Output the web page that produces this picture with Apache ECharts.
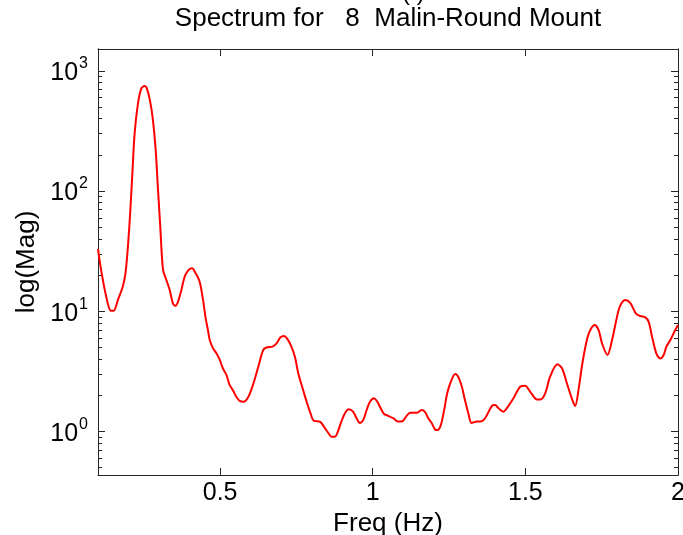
<!DOCTYPE html>
<html>
<head>
<meta charset="utf-8">
<script src="https://cdn.jsdelivr.net/npm/echarts@6/dist/echarts.min.js"></script>
<style>
  html, body { margin: 0; padding: 0; background: #fff; }
  #chart { width: 683px; height: 535px; }
</style>
</head>
<body>
<div id="chart"></div>
<script>
// Spectrum magnitude of station 8 (Malin-Round Mount)
const freqHz = [
  0.100, 0.105, 0.116, 0.127, 0.140, 0.151, 0.165, 0.181, 0.190, 0.198,
  0.206, 0.212, 0.220, 0.231, 0.242, 0.253, 0.260, 0.271, 0.280, 0.289,
  0.296, 0.304, 0.313, 0.324, 0.335, 0.345, 0.353, 0.362, 0.373, 0.384,
  0.397, 0.408, 0.420, 0.433, 0.444, 0.452, 0.460, 0.466, 0.477, 0.488,
  0.499, 0.509, 0.521, 0.531, 0.542, 0.553, 0.564, 0.578, 0.590, 0.600,
  0.613, 0.627, 0.641, 0.652, 0.672, 0.685, 0.698, 0.709, 0.719, 0.731,
  0.745, 0.756, 0.772, 0.785, 0.796, 0.807, 0.827, 0.840, 0.854, 0.865,
  0.876, 0.887, 0.895, 0.909, 0.922, 0.936, 0.947, 0.958, 0.969, 0.980,
  0.991, 1.004, 1.015, 1.026, 1.037, 1.051, 1.067, 1.084, 1.098, 1.111,
  1.122, 1.144, 1.160, 1.171, 1.182, 1.193, 1.204, 1.212, 1.223, 1.234,
  1.244, 1.256, 1.270, 1.280, 1.292, 1.302, 1.313, 1.324, 1.341, 1.352,
  1.368, 1.390, 1.401, 1.412, 1.428, 1.439, 1.461, 1.483, 1.499, 1.516,
  1.538, 1.549, 1.565, 1.581, 1.605, 1.620, 1.636, 1.652, 1.663, 1.674,
  1.685, 1.699, 1.710, 1.727, 1.740, 1.751, 1.769, 1.784, 1.798, 1.809,
  1.827, 1.844, 1.863, 1.877, 1.893, 1.904, 1.915, 1.929, 1.942, 1.953,
  1.962, 1.975, 1.991, 2.000
];
const magnitude = [
  33.0, 26.7, 18.2, 13.2, 10.2, 10.1, 12.4, 16.0, 20.7, 34.5,
  69.6, 132, 302, 537, 716, 749, 716, 555, 390, 219,
  109, 50.6, 22.1, 18.2, 15.0, 11.7, 11.1, 12.0, 15.0, 19.4,
  22.1, 22.8, 20.7, 17.6, 12.5, 9.0, 7.0, 5.77, 4.92, 4.47,
  3.94, 3.36, 2.95, 2.44, 2.21, 1.95, 1.80, 1.77, 1.89, 2.15,
  2.70, 3.60, 4.76, 5.00, 5.08, 5.42, 6.08, 6.23, 5.96, 5.25,
  4.19, 3.05, 2.21, 1.72, 1.42, 1.23, 1.21, 1.10, 0.977, 0.906,
  0.906, 1.016, 1.17, 1.42, 1.53, 1.46, 1.29, 1.18, 1.25, 1.51,
  1.77, 1.89, 1.77, 1.56, 1.40, 1.35, 1.29, 1.21, 1.22, 1.35,
  1.43, 1.43, 1.51, 1.46, 1.29, 1.18, 1.04, 1.03, 1.13, 1.51,
  2.08, 2.60, 3.01, 2.86, 2.36, 1.83, 1.42, 1.18, 1.21, 1.21,
  1.29, 1.63, 1.66, 1.56, 1.46, 1.56, 1.89, 2.36, 2.40, 2.14,
  1.85, 1.85, 2.08, 2.86, 3.62, 3.36, 2.52, 1.89, 1.63, 2.21,
  3.46, 5.42, 6.76, 7.69, 6.99, 5.42, 4.33, 5.77, 8.47, 10.9,
  12.4, 11.7, 9.5, 9.14, 8.91, 8.18, 6.15, 4.47, 4.06, 4.33,
  5.08, 5.77, 6.99, 7.69
];

// Axis tick positions
const xTicks = [0.5, 1, 1.5, 2];
const yMajorTicks = [1, 10, 100, 1000];
const yMinorTicks = [0.5, 0.6, 0.7, 0.8, 0.9,
  2, 3, 4, 5, 6, 7, 8, 9,
  20, 30, 40, 50, 60, 70, 80, 90,
  200, 300, 400, 500, 600, 700, 800, 900];

const titleText = 'Spectrum for   8  Malin-Round Mount';
const xName = 'Freq (Hz)';
const yName = 'log(Mag)';

const FONT = '"Liberation Sans", Arial, sans-serif';
const INK = '#000';
const AXIS_COLOR = '#262626';

const X_MIN = 0.1, X_MAX = 2;
const Y_MIN = 0.435, Y_MAX = 1520;

const seriesData = freqHz.map((f, i) => [f, magnitude[i]]);

function xAxisDef(pos, withLabels) {
  return {
    type: 'value', position: pos, min: X_MIN, max: X_MAX,
    axisLine: { show: true, onZero: false, lineStyle: { color: AXIS_COLOR, width: 1 } },
    axisTick: { show: true, inside: true, length: 7, customValues: xTicks,
      lineStyle: { color: AXIS_COLOR, width: 1 } },
    axisLabel: withLabels ? {
      show: true, customValues: xTicks, margin: 6,
      fontFamily: FONT, fontSize: 25, color: INK,
      formatter: v => String(v)
    } : { show: false },
    splitLine: { show: false },
    name: withLabels ? xName : '',
    nameLocation: 'middle', nameGap: 31,
    nameTextStyle: { fontFamily: FONT, fontSize: 26, color: INK }
  };
}

function yAxisDef(pos, ticks, len, withLabels, name) {
  return {
    type: 'log', logBase: 10, position: pos, min: Y_MIN, max: Y_MAX,
    axisLine: { show: true, onZero: false, lineStyle: { color: AXIS_COLOR, width: 1 } },
    axisTick: { show: true, inside: true, length: len, customValues: ticks,
      lineStyle: { color: AXIS_COLOR, width: 1 } },
    axisLabel: withLabels ? {
      show: true, customValues: ticks, margin: 10,
      formatter: v => '{b|10}{e|' + Math.round(Math.log10(v)) + '}',
      rich: {
        b: { fontFamily: FONT, fontSize: 25, color: INK, lineHeight: 30, verticalAlign: 'bottom' },
        e: { fontFamily: FONT, fontSize: 16, color: INK, lineHeight: 30, verticalAlign: 'top', padding: [0, 0, 0, 1] }
      }
    } : { show: false },
    splitLine: { show: false },
    minorTick: { show: false },
    name: name || '',
    nameLocation: 'middle', nameGap: 56,
    nameTextStyle: { fontFamily: FONT, fontSize: 26, color: INK }
  };
}

const chart = echarts.init(document.getElementById('chart'), null, { renderer: 'canvas' });
chart.setOption({
  backgroundColor: '#fff',
  animation: false,
  title: {
    text: titleText,
    left: 388, top: 6, textAlign: 'center', padding: 0,
    textStyle: { fontFamily: FONT, fontSize: 26, fontWeight: 'normal', color: INK }
  },
  graphic: [{
    type: 'text', left: 402, top: -19,
    style: { text: '( )', fontFamily: FONT, fontSize: 24, fill: INK }
  }],
  grid: { left: 98, right: 5, top: 49, bottom: 60, containLabel: false, outerBoundsMode: 'none' },
  xAxis: [
    xAxisDef('bottom', true),
    xAxisDef('top', false)
  ],
  yAxis: [
    yAxisDef('left', yMajorTicks, 7, true, yName),
    yAxisDef('left', yMinorTicks, 4, false),
    yAxisDef('right', yMajorTicks, 7, false),
    yAxisDef('right', yMinorTicks, 4, false)
  ],
  series: [{
    type: 'line',
    xAxisIndex: 0, yAxisIndex: 0,
    data: seriesData,
    showSymbol: false,
    smooth: 0.3,
    clip: true,
    lineStyle: { color: '#ff0000', width: 2 }
  }]
});
</script>
</body>
</html>
